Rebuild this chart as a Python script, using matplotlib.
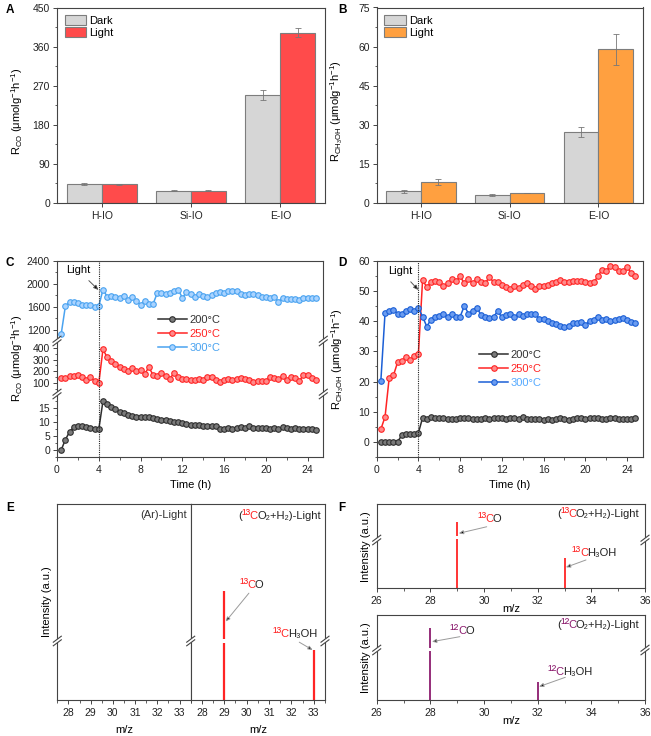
import matplotlib.pyplot as plt
import numpy as np
from matplotlib.lines import Line2D
from matplotlib.patches import Polygon
from matplotlib.offsetbox import TextArea, HPacker, AnnotationBbox
from matplotlib.ticker import MultipleLocator

plt.rcParams['font.family'] = ['Liberation Sans', 'DejaVu Sans']
plt.rcParams['mathtext.fontset'] = 'custom'
plt.rcParams['mathtext.rm'] = 'Liberation Sans'
plt.rcParams['mathtext.it'] = 'Liberation Sans:italic'
plt.rcParams['mathtext.bf'] = 'Liberation Sans:bold'
plt.rcParams['mathtext.default'] = 'regular'
plt.rcParams['font.size'] = 7.5
plt.rcParams['axes.linewidth'] = 0.8
plt.rcParams['axes.edgecolor'] = '#444444'
for a in ('xtick', 'ytick'):
    plt.rcParams[a + '.direction'] = 'out'
    plt.rcParams[a + '.major.size'] = 3
    plt.rcParams[a + '.minor.size'] = 1.8
    plt.rcParams[a + '.major.width'] = 0.7
    plt.rcParams[a + '.minor.width'] = 0.6
    plt.rcParams[a + '.labelsize'] = 7.5
    plt.rcParams[a + '.color'] = '#444444'
    plt.rcParams[a + '.labelcolor'] = '#222222'
plt.rcParams['xtick.major.pad'] = 2.5
plt.rcParams['ytick.major.pad'] = 2

# ---- data: panels A and B
samples = ['H-IO', 'Si-IO', 'E-IO']
co_dark = [43, 28, 248]
co_dark_err = [2, 1.5, 12]
co_light = [43, 28, 392]
co_light_err = [1.5, 1.5, 10]
meoh_dark = [4.5, 3.0, 27.2]
meoh_dark_err = [0.6, 0.3, 2.0]
meoh_light = [8.1, 3.8, 59.0]
meoh_light_err = [1.2, 0.1, 6.0]

# ---- data: panels C and D (time on stream)
t = np.round(np.arange(1, 63) * 0.4, 1)
co_200 = [0.0, 3.7, 6.5, 8.2, 8.5, 8.5, 8.3, 8.0, 7.7, 7.4,
          17.5, 16.5, 15.5, 14.6, 13.8, 13.2, 12.6, 12.1, 12.0, 11.9,
          11.9, 11.7, 11.4, 11.2, 10.9, 10.7, 10.5, 10.1, 9.9, 9.6,
          9.2, 9.0, 8.9, 8.9, 8.8, 8.8, 8.7, 8.6, 7.7, 7.6,
          7.8, 7.5, 8.0, 8.4, 8.0, 8.8, 7.9, 7.8, 7.8, 7.8,
          7.7, 8.0, 7.7, 8.1, 7.9, 7.7, 7.8, 7.7, 7.7, 7.6,
          7.5, 7.3]
co_250 = [145, 145, 160, 165, 168, 155, 132, 150, 122, 100,
          385, 320, 290, 260, 240, 220, 205, 230, 200, 215,
          180, 235, 170, 160, 190, 160, 140, 185, 150, 140,
          140, 130, 130, 140, 130, 155, 150, 130, 115, 125,
          135, 130, 140, 145, 135, 130, 115, 120, 120, 120,
          155, 145, 135, 160, 125, 155, 145, 120, 170, 170,
          145, 125]
co_300 = [1130, 1610, 1690, 1690, 1670, 1640, 1640, 1640, 1600, 1610,
          1900, 1780, 1790, 1780, 1750, 1790, 1720, 1770, 1700, 1640,
          1710, 1650, 1650, 1840, 1840, 1820, 1840, 1870, 1900, 1760,
          1850, 1830, 1780, 1820, 1790, 1780, 1800, 1840, 1850, 1840,
          1880, 1880, 1870, 1820, 1800, 1820, 1820, 1810, 1770, 1770,
          1750, 1780, 1690, 1760, 1740, 1730, 1730, 1720, 1760, 1760,
          1760, 1750]
meoh_200 = [0.0, 0.0, 0.0, 0.0, 0.0, 2.2, 2.5, 2.6, 2.6, 3.0,
            8.0, 7.6, 8.2, 7.9, 8.0, 7.8, 7.6, 7.7, 7.7, 7.8,
            7.9, 7.8, 7.6, 7.6, 7.7, 7.9, 7.7, 7.8, 7.8, 7.8,
            7.7, 7.9, 8.0, 7.6, 8.1, 7.5, 7.5, 7.6, 7.6, 7.4,
            7.7, 7.4, 7.6, 7.8, 7.6, 7.4, 7.5, 7.9, 7.8, 7.5,
            7.9, 7.8, 8.0, 7.5, 7.7, 8.0, 7.8, 7.6, 7.6, 7.7,
            7.6, 7.8]
meoh_250 = [4.2, 8.3, 21.3, 22.0, 26.3, 26.8, 28.0, 27.0, 28.5, 29.2,
            53.7, 51.2, 53.0, 53.2, 52.8, 51.5, 52.5, 53.8, 53.2, 54.8,
            52.5, 53.8, 52.5, 54.0, 53.0, 52.6, 54.5, 53.0, 52.8, 52.0,
            51.2, 50.5, 51.5, 51.0, 52.0, 52.5, 51.5, 50.7, 51.6, 51.5,
            52.0, 52.5, 53.0, 53.5, 53.0, 52.8, 53.2, 53.3, 53.2, 52.8,
            52.7, 52.8, 54.8, 57.0, 56.6, 58.3, 57.8, 56.5, 56.5, 58.0,
            55.8, 55.0]
meoh_300 = [20.3, 42.7, 43.5, 43.8, 42.5, 42.5, 43.5, 44.0, 43.5, 44.3,
            41.5, 38.2, 40.5, 41.5, 41.8, 42.5, 41.5, 42.5, 41.5, 41.5,
            45.0, 42.5, 43.5, 44.5, 42.0, 41.5, 41.0, 41.5, 43.2, 41.3,
            42.0, 42.5, 41.5, 42.2, 41.8, 42.2, 42.2, 42.2, 40.8, 40.8,
            40.0, 39.5, 39.0, 38.5, 38.0, 38.5, 39.3, 39.5, 39.6, 38.8,
            40.0, 40.5, 41.5, 40.2, 40.8, 40.0, 40.2, 40.8, 41.0, 40.5,
            39.8, 39.5]
temps = ['200°C', '250°C', '300°C']
t_light = 4.0

# ---- data: panels E and F (mass spectra, broken intensity axis)
e_mz = [29, 33]
e_int = [0.556, 0.255]
f13_mz = [29, 33]
f13_int = [0.79, 0.356]
f12_mz = [28, 32]
f12_int = [0.843, 0.21]

W, H = 651, 736
fig = plt.figure(figsize=(W / 100, H / 100), dpi=100)


def rect(l, t_, r, b):
    return [l / W, 1 - b / H, (r - l) / W, (b - t_) / H]


def brk(px, py):
    # "//" axis-break mark centred on a spine, figure pixel coords
    d, dx, dy = 1.8, 4, 3
    f = lambda x, y: (x / W, 1 - y / H)
    fig.add_artist(Polygon([f(px - dx, py + dy - d), f(px + dx, py - dy - d),
                            f(px + dx, py - dy + d), f(px - dx, py + dy + d)],
                           closed=True, transform=fig.transFigure, fc='white', ec='none', zorder=10))
    for s in (-d, d):
        fig.add_artist(Line2D([(px - dx) / W, (px + dx) / W], [1 - (py + dy + s) / H, 1 - (py - dy + s) / H],
                              transform=fig.transFigure, color='#444444', lw=0.8, zorder=11))


def ctext(ax, parts, xy, coords, align=(0.5, 0.5)):
    # multi-coloured label: parts are (text, colour, size)
    boxes = [TextArea(s, textprops=dict(color=c, fontsize=fs)) for s, c, fs in parts]
    pack = HPacker(children=boxes, align='baseline', pad=0, sep=-0.6)
    ab = AnnotationBbox(pack, xy, xycoords=coords, frameon=False, box_alignment=align, pad=0)
    ax.add_artist(ab)


def arrow(ax, tip, start, coords):
    ax.annotate('', xy=tip, xytext=start, xycoords=coords, textcoords=coords,
                arrowprops=dict(arrowstyle='-|>,head_length=0.35,head_width=0.15',
                                ec='#9a9a9a', fc='black', lw=0.7, shrinkA=0, shrinkB=0))


def letter(px, py, s):
    fig.text(px / W, 1 - py / H, s, fontsize=8.5, fontweight='bold', va='top', ha='left')


K = '#222222'
RED = '#ff2424'
PUR = '#8c1c6e'
SUP = {'13': '¹³', '12': '¹²'}


def gas_label(iso, c):
    return [('(', K, 8), (SUP[iso], c, 10), ('C', c, 8), ('O₂+H₂)-Light', K, 8)]


def co_label(iso, c):
    return [(SUP[iso], c, 10), ('C', c, 8), ('O', K, 8)]


def meoh_label(iso, c):
    return [(SUP[iso], c, 10), ('C', c, 8), ('H₃OH', K, 8)]


# ---- A and B: bar charts
bw = 0.39
xs = np.arange(1, 4)
ekw = dict(ecolor='#777777', elinewidth=0.6, capsize=2, capthick=0.6)
for box, dark, derr, light, lerr, lc, top, step, lab in [
        ((57, 7.5, 325, 203), co_dark, co_dark_err, co_light, co_light_err, '#ff4b4b', 450, 90,
         r'R$_{CO}$ (μmolg$^{-1}$h$^{-1}$)'),
        ((376.7, 7.5, 642.7, 203), meoh_dark, meoh_dark_err, meoh_light, meoh_light_err, '#ffa040', 75, 15,
         r'R$_{CH_3OH}$ (μmolg$^{-1}$h$^{-1}$)')]:
    ax = fig.add_axes(rect(*box))
    ax.bar(xs - bw / 2, dark, bw, yerr=derr, color='#d6d6d6', edgecolor='#7d7d7d', lw=0.8,
           error_kw=ekw, label='Dark')
    ax.bar(xs + bw / 2, light, bw, yerr=lerr, color=lc, edgecolor='#7d7d7d', lw=0.8,
           error_kw=ekw, label='Light')
    ax.set_xlim(0.5, 3.5)
    ax.set_ylim(0, top)
    ax.set_xticks(xs)
    ax.set_xticklabels(samples)
    ax.xaxis.set_minor_locator(MultipleLocator(0.5))
    ax.yaxis.set_major_locator(MultipleLocator(step))
    ax.yaxis.set_minor_locator(MultipleLocator(step / 2))
    ax.tick_params(axis='x', which='minor', length=0)
    ax.set_ylabel(lab, fontsize=8)
    ax.yaxis.set_label_coords(-0.12, 0.47)
    ax.legend(loc='upper left', fontsize=8, frameon=False, handlelength=1.9, handleheight=1.0,
              borderaxespad=0.3, labelspacing=0.1, handletextpad=0.3)
letter(6, 4, 'A')
letter(338, 4, 'B')

# ---- C: broken axis time-on-stream CO rate
seg = [(260.7, 341, (1010, 2400), 400, co_300, '#4aa3f0', '#a9d3ff'),
       (341, 394, (10, 456), 100, co_250, RED, '#ff8a8a'),
       (394, 457, (-2.5, 20.1), 5, co_200, '#2e2e2e', '#7a7a7a')]
handles = {}
axC = []
for i, (top_, bot_, lim, step, ys, c, fc) in enumerate(seg):
    ax = fig.add_axes(rect(57, top_, 323.3, bot_))
    ln, = ax.plot(t, ys, '-o', color=c, mfc=fc, mec=c, ms=4, mew=0.8, lw=1.1)
    handles[i] = ln
    ax.axvline(t_light, color='#222222', ls=(0, (1, 1)), lw=0.8)
    ax.set_ylim(*lim)
    ax.set_xlim(0, 25.5)
    ax.yaxis.set_major_locator(MultipleLocator(step))
    ax.yaxis.set_minor_locator(MultipleLocator(step / 2))
    ax.xaxis.set_major_locator(MultipleLocator(4))
    ax.xaxis.set_minor_locator(MultipleLocator(2))
    if i > 0:
        ax.spines['top'].set_visible(False)
    if i < 2:
        ax.spines['bottom'].set_visible(False)
        ax.tick_params(axis='x', which='both', bottom=False, labelbottom=False)
    ax.patch.set_alpha(0)
    axC.append(ax)
axC[1].set_yticks([100, 200, 300, 400])
axC[2].set_yticks([0, 5, 10, 15])
axC[2].set_xlabel('Time (h)', fontsize=8, labelpad=4)
axC[0].annotate('Light', xy=(3.97, 1893), xytext=(2.0, 2240), fontsize=8, ha='center', va='center',
                arrowprops=dict(arrowstyle='-|>,head_length=0.35,head_width=0.15', ec='#555555', fc='black',
                                lw=0.7, shrinkA=3, shrinkB=0))
for py in (341, 394):
    brk(57, py)
    brk(323.3, py)
fig.text(17 / W, 1 - 358 / H, r'R$_{CO}$ (μmolg$^{-1}$h$^{-1}$)', rotation=90, fontsize=8,
         ha='center', va='center')
fig.legend([handles[2], handles[1], handles[0]], temps, loc='center left',
           bbox_to_anchor=(158 / W, 1 - 334 / H), frameon=False, fontsize=8, handlelength=2.6,
           handletextpad=0.2, labelspacing=0.35, borderaxespad=0, borderpad=0,
           labelcolor=['#333333', RED, '#4aa3f0'])
letter(6, 257, 'C')

# ---- D: methanol rate
axD = fig.add_axes(rect(376.7, 260.7, 642.7, 457))
cols = [('#2e2e2e', '#7a7a7a'), (RED, '#ff8a8a'), ('#1b5fd6', '#6b9cf0')]
dl = []
for ys, (c, fc) in zip([meoh_200, meoh_250, meoh_300], cols):
    ln, = axD.plot(t, ys, '-o', color=c, mfc=fc, mec=c, ms=4, mew=0.8, lw=1.1)
    dl.append(ln)
axD.axvline(t_light, color='#222222', ls=(0, (1, 1)), lw=0.8)
axD.set_xlim(0, 25.5)
axD.set_ylim(-5, 60)
axD.yaxis.set_major_locator(MultipleLocator(10))
axD.yaxis.set_minor_locator(MultipleLocator(5))
axD.xaxis.set_major_locator(MultipleLocator(4))
axD.xaxis.set_minor_locator(MultipleLocator(2))
axD.set_xlabel('Time (h)', fontsize=8, labelpad=4)
axD.set_ylabel(r'R$_{CH_3OH}$ (μmolg$^{-1}$h$^{-1}$)', fontsize=8)
axD.yaxis.set_label_coords(-0.115, 0.5)
axD.annotate('Light', xy=(3.99, 50.3), xytext=(2.3, 56.6), fontsize=8, ha='center', va='center',
             arrowprops=dict(arrowstyle='-|>,head_length=0.35,head_width=0.15', ec='#555555', fc='black',
                             lw=0.7, shrinkA=3, shrinkB=0))
axD.legend(dl, temps, loc='center left', bbox_to_anchor=(0.385, 0.45), frameon=False, fontsize=8,
           handlelength=2.6, handletextpad=0.2, labelspacing=0.35, borderaxespad=0, borderpad=0,
           labelcolor=['#333333', RED, '#55aaff'])
letter(338, 257, 'D')

# ---- E: Ar vs 13CO2 spectra
axE1 = fig.add_axes(rect(57.3, 504, 190.7, 700))
axE2 = fig.add_axes(rect(190.7, 504, 325, 700))
for ax in (axE1, axE2):
    ax.set_xlim(27.5, 33.5)
    ax.set_ylim(0, 1)
    ax.xaxis.set_major_locator(MultipleLocator(1))
    ax.xaxis.set_minor_locator(MultipleLocator(0.5))
    ax.set_yticks([])
    ax.set_xlabel('m/z', fontsize=8, labelpad=5)
axE2.vlines(e_mz, 0, e_int, color=RED, lw=1.6, zorder=2)
axE2.axhspan(0.289, 0.31, color='white', zorder=2.2, lw=0)
axE1.set_ylabel('Intensity (a.u.)', fontsize=8, labelpad=4)
axE1.text(0.975, 0.944, '(Ar)-Light', transform=axE1.transAxes, ha='right', va='center',
          fontsize=8, color='#333333')
ctext(axE2, gas_label('13', RED), (0.968, 0.944), axE2.transAxes, align=(1, 0.5))
tr = axE2.get_xaxis_transform()
ctext(axE2, co_label('13', RED), (30.2, 0.59), tr)
arrow(axE2, (29.06, 0.40), (30.1, 0.545), tr)
ctext(axE2, meoh_label('13', RED), (32.15, 0.34), tr)
arrow(axE2, (32.95, 0.255), (32.35, 0.295), tr)
for px in (57.3, 190.7, 325):
    brk(px, 641)
letter(6, 502, 'E')

# ---- F: 13CO2 vs 12CO2 spectra
axF1 = fig.add_axes(rect(376.7, 504, 645, 588.3))
axF2 = fig.add_axes(rect(376.7, 615, 645, 700))
spec = [(axF1, f13_mz, f13_int, RED, '13', (0.58, 0.62), 540),
        (axF2, f12_mz, f12_int, PUR, '12', (0.58, 0.608), 650)]
lbl_pos = {'13': [((30.2, 0.83), (29.06, 0.652), (30.1, 0.73)),
                  ((34.1, 0.434), (33.05, 0.249), (33.8, 0.336))],
           '12': [((29.17, 0.82), (28.06, 0.686), (29.1, 0.745)),
                  ((33.19, 0.34), (32.05, 0.157), (33.03, 0.267))]}
for ax, mz, inten, c, iso, gap, py in spec:
    ax.vlines(mz, 0, inten, color=c, lw=1.3, zorder=2)
    ax.axhspan(gap[0], gap[1], color='white', zorder=2.2, lw=0)
    ax.set_xlim(26, 36)
    ax.set_ylim(0, 1)
    ax.xaxis.set_major_locator(MultipleLocator(2))
    ax.xaxis.set_minor_locator(MultipleLocator(1))
    ax.set_yticks([])
    ax.set_xlabel('m/z', fontsize=8, labelpad=-1.5)
    ax.set_ylabel('Intensity (a.u.)', fontsize=8, labelpad=4)
    ctext(ax, gas_label(iso, c), (0.979, 0.89), ax.transAxes, align=(1, 0.5))
    tr = ax.get_xaxis_transform()
    (p1, a1, s1), (p2, a2, s2) = lbl_pos[iso]
    ctext(ax, co_label(iso, c), p1, tr)
    arrow(ax, a1, s1, tr)
    ctext(ax, meoh_label(iso, c), p2, tr)
    arrow(ax, a2, s2, tr)
    brk(376.7, py)
    brk(645, py)
letter(338, 502, 'F')

fig.savefig('out.png', dpi=100)
